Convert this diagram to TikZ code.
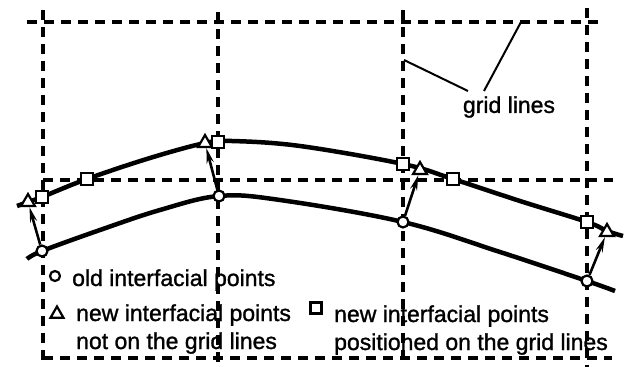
\documentclass[tikz,border=0pt]{standalone}
\usepackage{fontspec}
\setmainfont{Liberation Sans}[FakeBold=1.2]
\usetikzlibrary{arrows.meta,shapes.geometric}
\begin{document}
\begin{tikzpicture}[x=1pt,y=-1pt,
 gridline/.style={line width=3.2pt, dash pattern=on 10pt off 7pt},
 curve/.style={line width=4.5pt, line join=round},
 oldpt/.style={circle,draw,fill=white,line width=2.2pt,minimum size=11pt,inner sep=0},
 newtri/.style={regular polygon,regular polygon sides=3,draw,fill=white,line width=2.2pt,minimum size=16pt,inner sep=0},
 newsq/.style={rectangle,draw,fill=white,line width=2.2pt,minimum size=12.5pt,inner sep=0},
 mv/.style={line width=2.6pt,-{Stealth[length=15pt,width=7pt]}},
 lbl/.style={font=\fontsize{23}{27}\selectfont,inner sep=0,anchor=base west},
 lead/.style={line width=2pt}]
\useasboundingbox (0,0) rectangle (627,367);
% grid lines
\draw[gridline] (27,22) -- (598,22);
\draw[gridline] (43,180) -- (613,180);
\draw[gridline] (43,358) -- (612,358);
\draw[gridline] (43,10) -- (43,367);
\draw[gridline] (218,12) -- (218,367);
\draw[gridline] (403,10) -- (403,367);
\draw[gridline] (587,8) -- (587,367);
% leader lines and label
\node[lbl, anchor=center] (gl) at (509,107) {grid lines};
\coordinate (g1a) at (404,60);
\coordinate (g1b) at (468,91);
\coordinate (g2a) at (521,22);
\coordinate (g2b) at (484,91);
\draw[lead] (g1a) -- (g1b);
\draw[lead] (g2a) -- (g2b);
% curves
\draw[curve] plot[smooth, tension=0.6] coordinates {(17,206) (28,202) (42,197) (87,179) (150,158) (205,143) (232,141) (300,146) (403,164) (453,179) (520,201) (587,222) (607,231) (623,236)};
\draw[curve] plot[smooth, tension=0.6] coordinates {(27,259) (42,251) (100,230) (160,210) (219,196) (280,200) (403,222) (500,252) (587,281) (615,291)};
% markers
\node[newsq] (s1) at (42,197) {};
\node[newsq] (s2) at (87,179) {};
\node[newsq] (s3) at (218,142) {};
\node[newsq] (s4) at (403,164) {};
\node[newsq] (s5) at (453,179) {};
\node[newsq] (s6) at (587,222) {};
\node[oldpt] (c1) at (42,251) {};
\node[oldpt] (c2) at (219,196) {};
\node[oldpt] (c3) at (403,222) {};
\node[oldpt] (c4) at (587,281) {};
\node[newtri] (t1) at (28,202) {};
\node[newtri] (t2) at (205,143) {};
\node[newtri] (t3) at (420,170) {};
\node[newtri] (t4) at (607,232) {};
% movement arrows
\draw[mv] (c1) -- (t1);
\draw[mv] (c2) -- (t2);
\draw[mv] (c3) -- (t3);
\draw[mv] (c4) -- (t4);
% legend
\node[oldpt, minimum size=10pt] (lc) at (55,276) {};
\node[lbl] (lt1) at (72,286) {old interfacial points};
\node[newtri, minimum size=15pt] (lt) at (57,314) {};
\node[lbl] (lt2) at (76,321) {new interfacial points};
\node[lbl] (lt3) at (76,349) {not on the grid lines};
\node[newsq, minimum size=11pt] (ls) at (316,308) {};
\node[lbl] (lt4) at (334,322) {new interfacial points};
\node[lbl] (lt5) at (334,350) {positioned on the grid lines};
\end{tikzpicture}
\end{document}
